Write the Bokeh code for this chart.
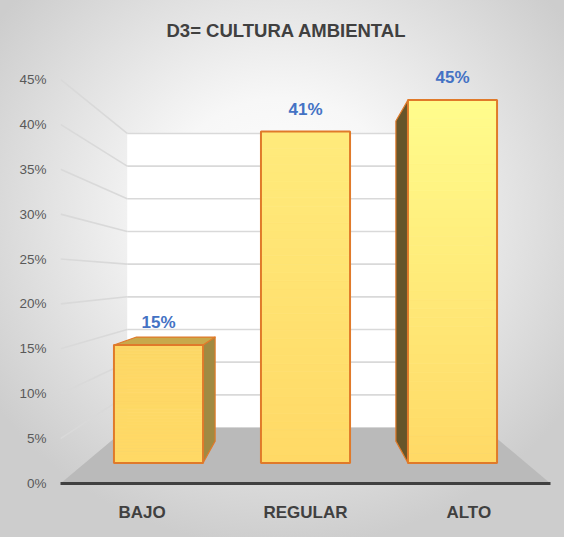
import numpy as np
from bokeh.plotting import figure
from bokeh.models import Range1d, FixedTicker
from bokeh.core.properties import value
from bokeh.embed import file_html
from bokeh.resources import INLINE

# ---------------- data ----------------
TITLE = "D3= CULTURA AMBIENTAL"
CATEGORIES = ["BAJO", "REGULAR", "ALTO"]
VALUES = [14.6, 41.0, 44.9]          # percent
DATA_LABELS = ["15%", "41%", "45%"]
Y_TICKS = [0, 5, 10, 15, 20, 25, 30, 35, 40, 45]
Y_TICK_LABELS = ["0%", "5%", "10%", "15%", "20%", "25%", "30%", "35%", "40%", "45%"]

# ---------------- 3-D look (style constants) ----------------
Y_MAX = 45.0
VP_X, VP_Y = 1.0, 22.9        # vanishing point in data units
S_BAR_FRONT = 0.900            # depth scale of bar front faces
S_BAR_BACK = 0.794             # depth scale of bar back faces
S_WALL = 0.7277                # depth scale of back wall
BAR_HALF = 0.303               # half bar width (category units)
N_STRIPS = 40

BASE_COLOR = (255, 217, 102)
BAR_TOP_COLORS = [(253, 216, 102), (255, 235, 124), (255, 252, 140)]
TOP_FACE = "#C8A94B"
SIDE_LIT = "#A08A42"
SIDE_DARK = "#66552A"
EDGE = "#E07A2A"


def proj(X, Y, s):
    X = np.asarray(X, dtype=float)
    Y = np.asarray(Y, dtype=float)
    return VP_X + s * (X - VP_X), VP_Y + s * (Y - VP_Y)


def hexc(c):
    return "#%02x%02x%02x" % tuple(int(round(v)) for v in c)


p = figure(width=564, height=537, output_backend="svg", toolbar_location=None, tools="",
           x_range=Range1d(-0.5, 2.5), y_range=Range1d(0, 48.0),
           min_border_left=60, min_border_right=14, min_border_top=52, min_border_bottom=54)
p.background_fill_alpha = 0
p.border_fill_alpha = 0
p.outline_line_color = None
p.styles = {"background": "radial-gradient(ellipse 62% 62% at 50% 40%, #ffffff 0%, #f7f7f7 35%, #cdcdcd 100%)"}
p.xgrid.visible = False
p.ygrid.visible = False

# title
p.title.text = TITLE
p.title.align = "left"
p.title.text_font = "Liberation Sans"
p.title.text_font_size = "18.5px"
p.title.text_font_style = "bold"
p.title.text_color = "#404040"
p.title.offset = 106
p.title.standoff = 24

# back wall
wx, wy = proj([-0.5, 2.5, 2.5, -0.5], [0, 0, Y_MAX, Y_MAX], S_WALL)
p.patch(wx, wy, fill_color="white", line_color=None)

# gridlines (back wall + left side wall)
gxs, gys = [], []
for t in Y_TICKS[1:]:
    ax, ay = proj([-0.5, 2.5], [t, t], S_WALL)
    gxs.append(list(ax)); gys.append(list(ay))
    fx, fy = proj([-0.5], [t], 1.0)
    gxs.append([fx[0], ax[0]]); gys.append([fy[0], ay[0]])
p.multi_line(gxs, gys, line_color="#D9D9D9", line_width=1.6)

# floor
fx1, fy1 = proj([-0.5, 2.5], [0, 0], 1.0)
fx2, fy2 = proj([2.5, -0.5], [0, 0], S_WALL)
p.patch(list(fx1) + list(fx2), list(fy1) + list(fy2), fill_color="#BABABA", line_color=None)

# bars
lab_x, lab_y = [], []
for i, v in enumerate(VALUES):
    x0, x1 = i - BAR_HALF, i + BAR_HALF
    # side faces (only the one facing the viewer)
    if x1 < VP_X:
        sx = [x1, x1, x1, x1]; side_col = SIDE_LIT
    elif x0 > VP_X:
        sx = [x0, x0, x0, x0]; side_col = SIDE_DARK
    else:
        sx = None
    if sx is not None:
        ax, ay = proj(sx[:2], [0, v], S_BAR_FRONT)
        bx, by = proj(sx[2:], [v, 0], S_BAR_BACK)
        p.patch(list(ax) + list(bx), list(ay) + list(by), fill_color=side_col,
                line_color=EDGE, line_width=1.2, line_join="round")
    # top face (visible only when viewed from above)
    if v < VP_Y:
        ax, ay = proj([x0, x1], [v, v], S_BAR_FRONT)
        bx, by = proj([x1, x0], [v, v], S_BAR_BACK)
        p.patch(list(ax) + list(bx), list(ay) + list(by), fill_color=TOP_FACE,
                line_color=EDGE, line_width=1.2, line_join="round")
    # front face with vertical gradient
    edges = np.linspace(0, v, N_STRIPS + 1)
    top_c = np.array(BAR_TOP_COLORS[i], dtype=float)
    base_c = np.array(BASE_COLOR, dtype=float)
    lefts, rights, bots, tops, cols = [], [], [], [], []
    for k in range(N_STRIPS):
        t = (k + 0.5) / N_STRIPS
        c = hexc(base_c + (top_c - base_c) * t)
        (l, r), (b, tp) = proj([x0, x1], [edges[k], edges[k + 1]], S_BAR_FRONT)
        lefts.append(l); rights.append(r); bots.append(b); tops.append(tp); cols.append(c)
    p.quad(left=lefts, right=rights, bottom=bots, top=tops, fill_color=cols,
           line_color=cols, line_width=0.8)
    (l, r), (b, tp) = proj([x0, x1], [0, v], S_BAR_FRONT)
    p.quad(left=[l], right=[r], bottom=[b], top=[tp], fill_alpha=0,
           line_color=EDGE, line_width=2)
    cx, cy = proj([i], [v], S_BAR_FRONT)
    lab_x.append(cx[0]); lab_y.append(cy[0])

p.text(x=lab_x, y=lab_y, text=DATA_LABELS, text_font=value("Liberation Sans"),
       text_font_style="bold", text_font_size="17px", text_color="#4472C4",
       text_align="center", text_baseline="bottom", y_offset=-13)

# axes
p.yaxis.ticker = FixedTicker(ticks=Y_TICKS)
p.yaxis.major_label_overrides = dict(zip(Y_TICKS, Y_TICK_LABELS))
p.yaxis.axis_line_color = None
p.yaxis.major_tick_line_color = None
p.yaxis.minor_tick_line_color = None
p.yaxis.major_tick_out = 0
p.yaxis.major_label_standoff = 14
p.yaxis.major_label_text_font = "Liberation Sans"
p.yaxis.major_label_text_font_size = "13.5px"
p.yaxis.major_label_text_color = "#595959"

p.xaxis.ticker = FixedTicker(ticks=list(range(len(CATEGORIES))))
p.xaxis.major_label_overrides = {i: c for i, c in enumerate(CATEGORIES)}
p.xaxis.axis_line_color = "#404040"
p.xaxis.axis_line_width = 3
p.xaxis.major_tick_line_color = None
p.xaxis.minor_tick_line_color = None
p.xaxis.major_tick_out = 0
p.xaxis.major_label_standoff = 19
p.xaxis.major_label_text_font = "Liberation Sans"
p.xaxis.major_label_text_font_size = "17px"
p.xaxis.major_label_text_font_style = "bold"
p.xaxis.major_label_text_color = "#404040"

open("out.html", "w").write(file_html(p, INLINE))
